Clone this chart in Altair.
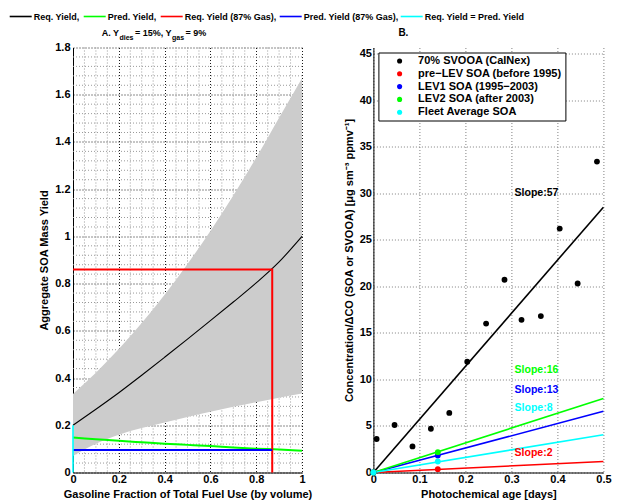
import altair as alt
import pandas as pd

# ---------------- Panel A data ----------------
gas_frac = [0.0, 0.1, 0.2, 0.3, 0.4, 0.5, 0.6, 0.7, 0.8, 0.9, 1.0]
req_yield = [0.200, 0.268, 0.338, 0.412, 0.488, 0.565, 0.643, 0.722, 0.803, 0.892, 1.000]
band_low = [0.070, 0.122, 0.160, 0.188, 0.212, 0.235, 0.257, 0.278, 0.298, 0.317, 0.335]
band_high = [0.333, 0.423, 0.523, 0.633, 0.753, 0.883, 1.023, 1.173, 1.333, 1.503, 1.670]
pred_yield = [0.148, 0.141, 0.134, 0.128, 0.122, 0.117, 0.112, 0.106, 0.101, 0.097, 0.092]
red_x = [0.0, 0.87, 0.87]
red_y = [0.86, 0.86, 0.0]
blue_x = [0.0, 0.87]
blue_y = [0.095, 0.095]
cyan_x = [0.0, 0.0]
cyan_y = [0.0, 0.2]

series_a = ["Req. Yield,", "Pred. Yield,", "Req. Yield (87% Gas),",
            "Pred. Yield (87% Gas),", "Req. Yield = Pred. Yield"]
colors_a = ["#000000", "#00ff00", "#ff0000", "#0000ff", "#00ffff"]

ticks_ax = [0, 0.2, 0.4, 0.6, 0.8, 1]
ticks_ay = [0, 0.2, 0.4, 0.6, 0.8, 1, 1.2, 1.4, 1.6, 1.8]
minor_ax = [0.05, 0.1, 0.15, 0.25, 0.3, 0.35, 0.45, 0.5, 0.55, 0.65, 0.7, 0.75, 0.85, 0.9, 0.95]
minor_ay = [0.04, 0.08, 0.12, 0.16, 0.24, 0.28, 0.32, 0.36, 0.44, 0.48, 0.52, 0.56,
            0.64, 0.68, 0.72, 0.76, 0.84, 0.88, 0.92, 0.96, 1.04, 1.08, 1.12, 1.16,
            1.24, 1.28, 1.32, 1.36, 1.44, 1.48, 1.52, 1.56, 1.64, 1.68, 1.72, 1.76]

# ---------------- Panel B data ----------------
age = [0.007, 0.046, 0.085, 0.125, 0.165, 0.204, 0.245, 0.285, 0.322, 0.364, 0.405, 0.444, 0.486]
svooa = [3.6, 5.1, 2.8, 4.7, 6.4, 11.9, 16.0, 20.7, 16.4, 16.8, 26.2, 20.3, 33.4]
series_b = ["70% SVOOA (CalNex)", "pre\u2212LEV SOA (before 1995)", "LEV1 SOA (1995\u22122003)",
            "LEV2 SOA (after 2003)", "Fleet Average SOA"]
colors_b = ["#000000", "#ff0000", "#0000ff", "#00ff00", "#00ffff"]
soa_age = 0.14
soa_value = [0.36, 1.82, 2.18, 1.18]          # red, blue, green, cyan
line_end_age = 0.5
line_end_value = [28.5, 1.18, 6.57, 7.95, 4.05]  # black, red, blue, green, cyan
slope_text = ["Slope:57", "Slope:2", "Slope:13", "Slope:16", "Slope:8"]
slope_y = [30.0, 2.1, 8.9, 11.0, 6.9]
slope_x = 0.307
ticks_bx = [0, 0.1, 0.2, 0.3, 0.4, 0.5]
ticks_by = [0, 5, 10, 15, 20, 25, 30, 35, 40, 45]

FONT = "Liberation Sans"

# ---------------- Panel A ----------------
xa_scale = alt.Scale(domain=[0, 1], nice=False, zero=False)
ya_scale = alt.Scale(domain=[0, 1.8], nice=False, zero=False)
xa_axis = alt.Axis(values=ticks_ax, format="~g", title="Gasoline Fraction of Total Fuel Use (by volume)",
                   grid=True, gridColor="#000000", gridDash=[1, 2], gridOpacity=0.9,
                   ticks=False, labelPadding=1, titlePadding=4, labelFlush=False)
ya_axis = alt.Axis(values=ticks_ay, format="~g", title="Aggregate SOA Mass Yield",
                   grid=True, gridColor="#000000", gridDash=[1, 2], gridOpacity=0.9,
                   ticks=False, labelPadding=3, titlePadding=5, labelFlush=False)
XA = alt.X("x:Q", scale=xa_scale, axis=xa_axis)
YA = alt.Y("y:Q", scale=ya_scale, axis=ya_axis)

color_a = alt.Color("s:N", scale=alt.Scale(domain=series_a, range=colors_a), legend=None)

minor_x = alt.Chart(pd.DataFrame({"x": minor_ax})).mark_rule(
    color="#9a9a9a", strokeDash=[1, 2], strokeWidth=1).encode(x=XA)
minor_y = alt.Chart(pd.DataFrame({"y": minor_ay})).mark_rule(
    color="#9a9a9a", strokeDash=[1, 2], strokeWidth=1).encode(y=YA)

band = alt.Chart(pd.DataFrame({"x": gas_frac, "y": band_low, "y2": band_high})).mark_area(
    color="#cccccc", opacity=1, interpolate="monotone").encode(x=XA, y=YA, y2="y2:Q")


def path_df(name, xs, ys):
    return pd.DataFrame({"s": name, "x": xs, "y": ys, "o": list(range(len(xs)))})


def line_layer(df, width, interp="linear"):
    return alt.Chart(df).mark_line(strokeWidth=width, interpolate=interp).encode(
        x=XA, y=YA, color=color_a, order="o:Q")


black_line = line_layer(path_df(series_a[0], gas_frac, req_yield), 1.1, "monotone")
green_line = line_layer(path_df(series_a[1], gas_frac, pred_yield), 2, "monotone")
red_line = line_layer(path_df(series_a[2], red_x, red_y), 2)
blue_line = line_layer(path_df(series_a[3], blue_x, blue_y), 2)
cyan_line = line_layer(path_df(series_a[4], cyan_x, cyan_y), 1.6)

one = pd.DataFrame({"k": [0]})


def label(text, px, py, size, color="#000000"):
    return alt.Chart(one).mark_text(
        text=text, align="left", baseline="middle", font=FONT, fontWeight="bold",
        fontSize=size, color=color).encode(x=alt.value(px), y=alt.value(py))


def key_line(px, py, color):
    return alt.Chart(one).mark_rule(strokeWidth=1.6, color=color).encode(
        x=alt.value(px), x2=alt.value(px + 22), y=alt.value(py))


# top legend (line key + label), placed above panel A
key_start = [-63.3, 10.7, 87.7, 206.7, 327.7]
legend_a = []
for name, col, px in zip(series_a, colors_a, key_start):
    legend_a.append(key_line(px, -31, col))
    legend_a.append(label(name, px + 24, -31, 9))

title_a = [
    label("A. Y", 28.7, -15, 9),
    label("dies", 46.5, -10, 7),
    label("= 15%, Y", 62, -15, 9),
    label("gas", 99, -10, 7),
    label("= 9%", 112.5, -15, 9),
]

panel_a = alt.layer(minor_x, minor_y, band, black_line, green_line, red_line, blue_line,
                    cyan_line, *legend_a, *title_a).properties(width=229, height=425)

# ---------------- Panel B ----------------
xb_scale = alt.Scale(domain=[0, 0.5], nice=False, zero=False)
yb_scale = alt.Scale(domain=[0, 45.65], nice=False, zero=False)
xb_axis = alt.Axis(values=ticks_bx, format="~g", title="Photochemical age [days]",
                   grid=True, gridColor="#808080", gridDash=[1, 2], gridOpacity=1,
                   ticks=False, labelPadding=1, titlePadding=4, labelFlush=False)
yb_axis = alt.Axis(values=ticks_by, format="~g",
                   title="Concentration/\u0394CO (SOA or SVOOA) [\u03bcg sm\u207b\u00b3  ppmv\u207b\u00b9]",
                   grid=True, gridColor="#808080", gridDash=[1, 2], gridOpacity=1,
                   ticks=False, labelPadding=2, titlePadding=5, labelFlush=False)
XB = alt.X("x:Q", scale=xb_scale, axis=xb_axis)
YB = alt.Y("y:Q", scale=yb_scale, axis=yb_axis)

line_rows = []
for name, yend in zip(series_b, line_end_value):
    line_rows.append({"s": name, "x": 0.0, "y": 0.0})
    line_rows.append({"s": name, "x": line_end_age, "y": yend})
lines_b = alt.Chart(pd.DataFrame(line_rows)).mark_line(strokeWidth=1.6).encode(
    x=XB, y=YB, detail="s:N",
    stroke=alt.Stroke("s:N", scale=alt.Scale(domain=series_b, range=colors_b), legend=None))

pt_rows = [{"s": series_b[0], "x": a, "y": v} for a, v in zip(age, svooa)]
for name, v in zip(series_b[1:], soa_value):
    pt_rows.append({"s": name, "x": 0.0, "y": 0.0})
    pt_rows.append({"s": name, "x": soa_age, "y": v})
points_b = alt.Chart(pd.DataFrame(pt_rows)).mark_circle(size=34, opacity=1).encode(
    x=XB, y=YB,
    color=alt.Color("s:N", scale=alt.Scale(domain=series_b, range=colors_b),
                    legend=alt.Legend(orient="top-left", offset=5, title=None, padding=3,
                                      fillColor="#ffffff", strokeColor="#000000",
                                      symbolType="circle", symbolSize=26, symbolStrokeWidth=0,
                                      symbolOffset=12.7, labelOffset=13, labelFont=FONT,
                                      labelFontWeight="bold", labelFontSize=11,
                                      labelColor="#000000", rowPadding=0.8, cornerRadius=0,
                                      labelLimit=0)))

slope_df = pd.DataFrame({"s": series_b, "t": slope_text, "y": slope_y, "x": [slope_x] * 5})
slopes_b = alt.Chart(slope_df).mark_text(align="left", baseline="middle", font=FONT,
                                         fontWeight="bold", fontSize=10.5).encode(
    x=XB, y=YB, text="t:N",
    fill=alt.Fill("s:N", scale=alt.Scale(domain=series_b, range=colors_b), legend=None))

title_b = label("B.", 25, -14.5, 10)

panel_b = alt.layer(lines_b, points_b, slopes_b, title_b).properties(width=230, height=425)

chart = alt.hconcat(panel_a, panel_b, spacing=71.4, bounds="flush").resolve_scale(
    color="independent", x="independent", y="independent").properties(
    padding={"left": 8, "top": 12.5, "right": 5, "bottom": 0}
).configure_view(stroke=None).configure_axis(
    labelFont=FONT, labelFontWeight="bold", labelFontSize=11, labelColor="#000000",
    titleFont=FONT, titleFontWeight="bold", titleFontSize=11, titleColor="#000000",
    domainColor="#000000", domainWidth=1,
)

chart.save("out.html", embed_options={"renderer": "svg", "actions": False})
